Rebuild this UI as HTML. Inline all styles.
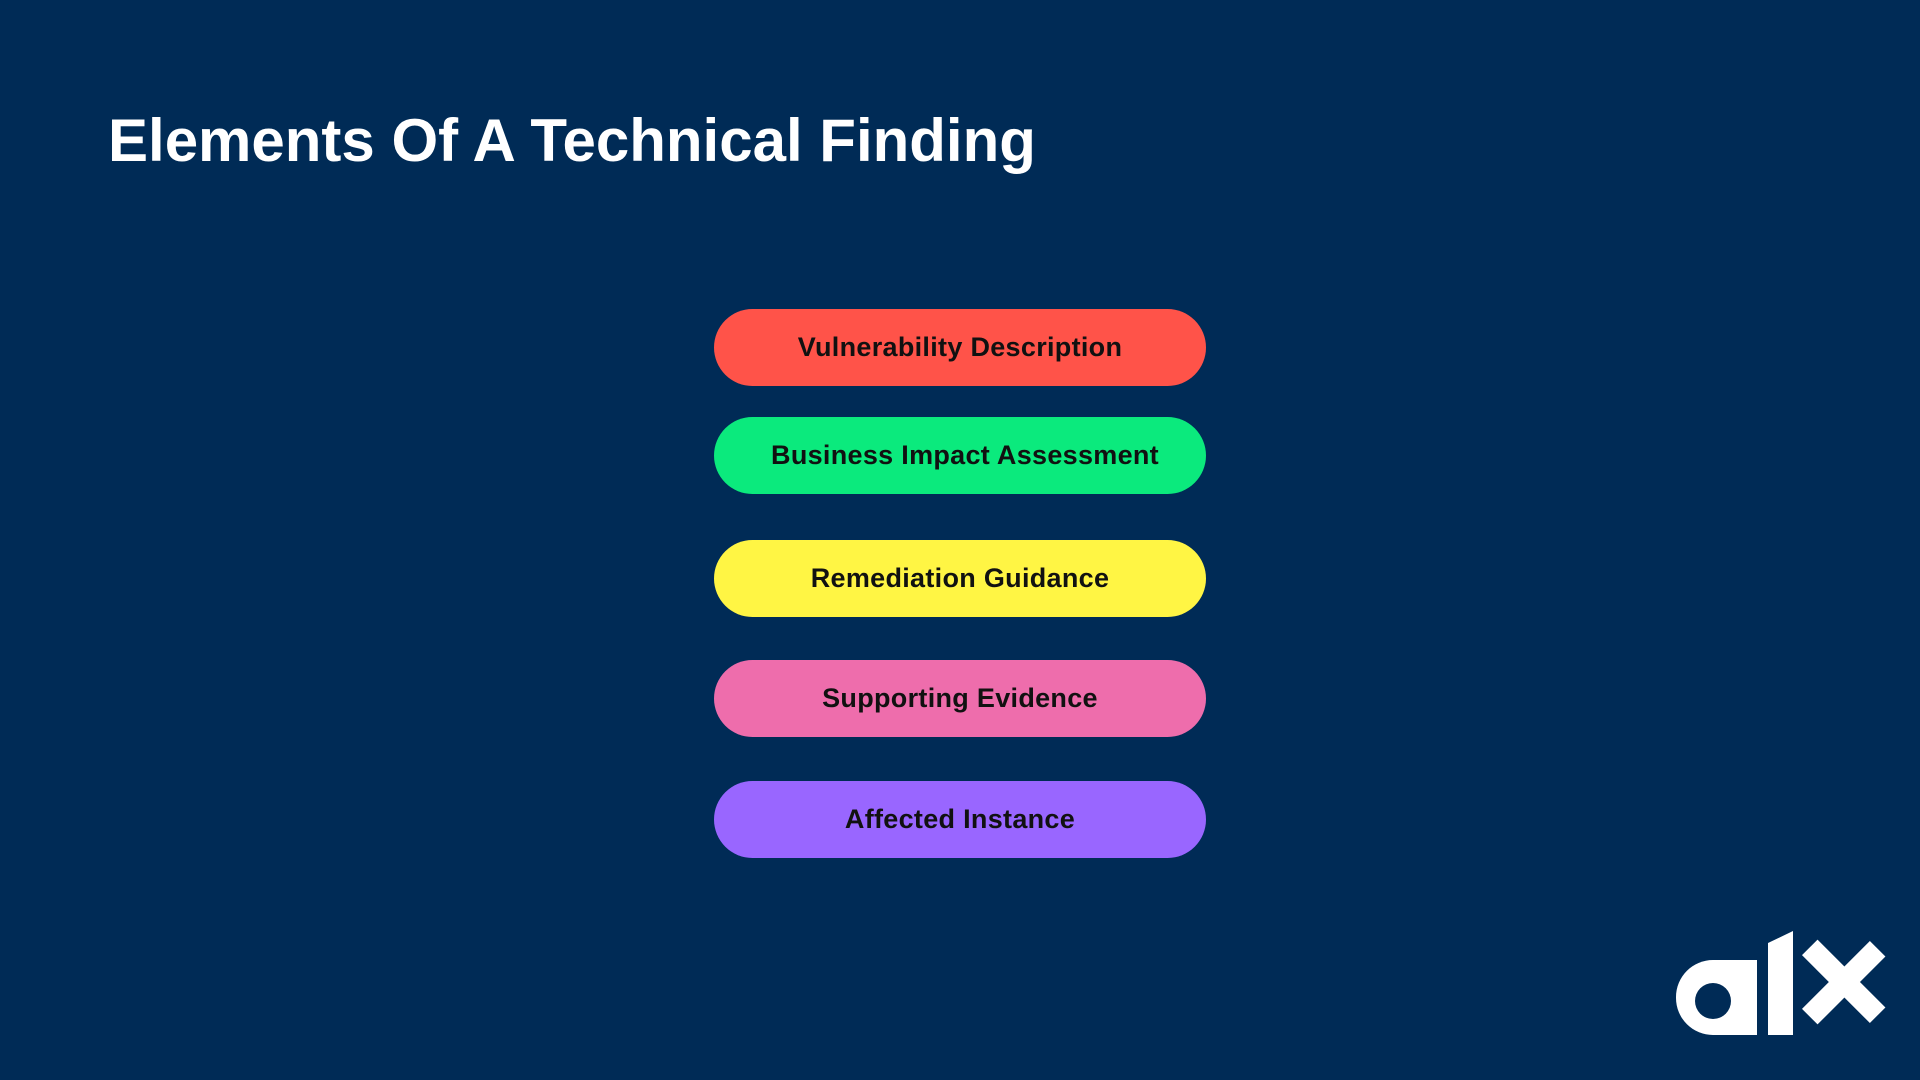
<!DOCTYPE html>
<html><head><meta charset="utf-8"><style>
html,body{margin:0;padding:0;}
body{width:1920px;height:1080px;background:#002B56;position:relative;overflow:hidden;font-family:"Liberation Sans",sans-serif;}
h1{position:absolute;left:108px;top:106px;margin:0;color:#fff;font-size:60px;font-weight:bold;letter-spacing:0px;}
.p{position:absolute;left:714px;width:492px;height:77px;border-radius:39px;display:flex;align-items:center;justify-content:center;font-weight:bold;font-size:27px;letter-spacing:0.3px;color:#111;}
</style></head><body>
<h1>Elements Of A Technical Finding</h1>
<div class="p" style="top:309px;background:#FF5349">Vulnerability Description</div>
<div class="p" style="top:417px;background:#0BEA7D;padding-left:10px;box-sizing:border-box">Business Impact Assessment</div>
<div class="p" style="top:540px;background:#FFF544">Remediation Guidance</div>
<div class="p" style="top:660px;background:#EE6DAC">Supporting Evidence</div>
<div class="p" style="top:781px;background:#9966FF">Affected Instance</div>
<svg style="position:absolute;left:0;top:0" width="1920" height="1080">
<g fill="#fff">
<rect x="1676" y="960" width="81" height="75" rx="37"/>
<rect x="1716" y="960" width="41" height="75"/>
<polygon points="1768,943 1793,931 1793,1035 1768,1035"/>
<rect x="1833" y="934" width="22" height="96" transform="rotate(45 1843 982)"/>
<rect x="1833" y="934" width="22" height="96" transform="rotate(-45 1843 982)"/>
</g>
<circle cx="1713" cy="1001" r="18" fill="#002B56"/>
</svg>
</body></html>
